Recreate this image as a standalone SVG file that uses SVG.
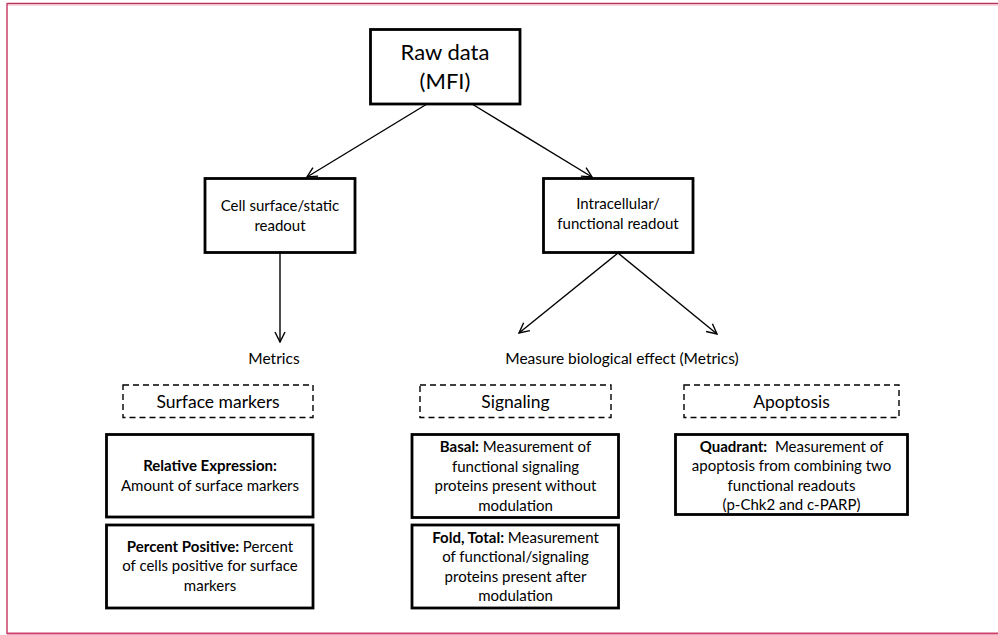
<svg xmlns="http://www.w3.org/2000/svg" width="998" height="635" viewBox="0 0 998 635">
<defs>
<style>
.box{fill:#fff;stroke:#000;stroke-width:2.8}
.dash{fill:#fff;stroke:#000;stroke-width:1.4;stroke-dasharray:6 4}
.conn{stroke:#000;stroke-width:1.4;fill:none;marker-end:url(#arr)}
text{font-family:Lato,"Open Sans","Liberation Sans",sans-serif;fill:#000;text-anchor:middle}
.t22{font-size:22px}
.t15{font-size:15px}
.t155{font-size:15.5px}
.t17{font-size:17.5px}
.b{font-weight:bold}
</style>
<marker id="arr" viewBox="0 0 12 12" refX="11" refY="6" markerWidth="12" markerHeight="12" markerUnits="userSpaceOnUse" orient="auto">
<path d="M1,1 L11,6 L1,11" fill="none" stroke="#000" stroke-width="1.4"/>
</marker>
</defs>
<rect x="0" y="0" width="998" height="635" fill="#fff"/>
<g id="frame">
<line x1="7" y1="3.5" x2="998" y2="3.5" stroke="#b8345a" stroke-width="1.6"/>
<line x1="7" y1="5" x2="998" y2="5" stroke="#f0b8c8" stroke-width="1"/>
<line x1="7" y1="3" x2="7" y2="634" stroke="#c8416a" stroke-width="1.5"/>
<line x1="7" y1="633.5" x2="998" y2="633.5" stroke="#d0416e" stroke-width="2"/>
</g>
<g id="connectors">
<line class="conn" x1="427" y1="104" x2="307" y2="177"/>
<line class="conn" x1="472" y1="104" x2="592" y2="177"/>
<line class="conn" x1="280" y1="253" x2="280" y2="342"/>
<line class="conn" x1="618" y1="253" x2="519" y2="333"/>
<line class="conn" x1="618" y1="253" x2="717" y2="334"/>
</g>
<g id="raw-data">
<rect class="box" x="370.5" y="29.5" width="149.5" height="74.5"/>
<text class="t22" x="445" y="60">Raw data</text>
<text class="t22" x="445" y="89">(MFI)</text>
</g>
<g id="cell-surface">
<rect class="box" x="205" y="178.5" width="150" height="74"/>
<text class="t15" x="280" y="211">Cell surface/static</text>
<text class="t15" x="280" y="231">readout</text>
</g>
<g id="intracellular">
<rect class="box" x="543.5" y="178.5" width="149.5" height="74"/>
<text class="t15" x="618" y="209">Intracellular/</text>
<text class="t15" x="618" y="229">functional readout</text>
</g>
<g id="metrics-left">
<text class="t155" x="274" y="364">Metrics</text>
</g>
<g id="metrics-right">
<text class="t155" x="622" y="364">Measure biological effect (Metrics)</text>
</g>
<g id="surface-markers">
<rect class="dash" x="123" y="385" width="190" height="32.5"/>
<text class="t17" x="218" y="408">Surface markers</text>
</g>
<g id="signaling">
<rect class="dash" x="420" y="385" width="191" height="32.5"/>
<text class="t17" x="515.5" y="408">Signaling</text>
</g>
<g id="apoptosis">
<rect class="dash" x="684" y="385" width="215" height="32.5"/>
<text class="t17" x="791.5" y="408">Apoptosis</text>
</g>
<g id="relative-expression">
<rect class="box" x="106.5" y="434.5" width="206.5" height="82.5"/>
<text class="t15 b" x="210" y="471">Relative Expression:</text>
<text class="t15" x="210" y="490.5">Amount of surface markers</text>
</g>
<g id="percent-positive">
<rect class="box" x="106.5" y="525" width="206.5" height="83"/>
<text class="t15" x="210" y="551.5"><tspan class="b">Percent Positive:</tspan> Percent</text>
<text class="t15" x="210" y="571">of cells positive for surface</text>
<text class="t15" x="210" y="590.5">markers</text>
</g>
<g id="basal">
<rect class="box" x="412" y="434.5" width="206.5" height="83"/>
<text class="t15" x="515.5" y="451.5"><tspan class="b">Basal:</tspan> Measurement of</text>
<text class="t15" x="515.5" y="471.5">functional signaling</text>
<text class="t15" x="515.5" y="491">proteins present without</text>
<text class="t15" x="515.5" y="510.5">modulation</text>
</g>
<g id="fold-total">
<rect class="box" x="412" y="525" width="206.5" height="83"/>
<text class="t15" x="515.5" y="542.5"><tspan class="b">Fold, Total:</tspan> Measurement</text>
<text class="t15" x="515.5" y="562">of functional/signaling</text>
<text class="t15" x="515.5" y="581.5">proteins present after</text>
<text class="t15" x="515.5" y="601">modulation</text>
</g>
<g id="quadrant">
<rect class="box" x="675.5" y="434.5" width="232" height="80"/>
<text class="t15" x="791.5" y="451.5" xml:space="preserve"><tspan class="b">Quadrant:</tspan>  Measurement of</text>
<text class="t15" x="791.5" y="471">apoptosis from combining two</text>
<text class="t15" x="791.5" y="490.5">functional readouts</text>
<text class="t15" x="791.5" y="510">(p-Chk2 and c-PARP)</text>
</g>
</svg>
